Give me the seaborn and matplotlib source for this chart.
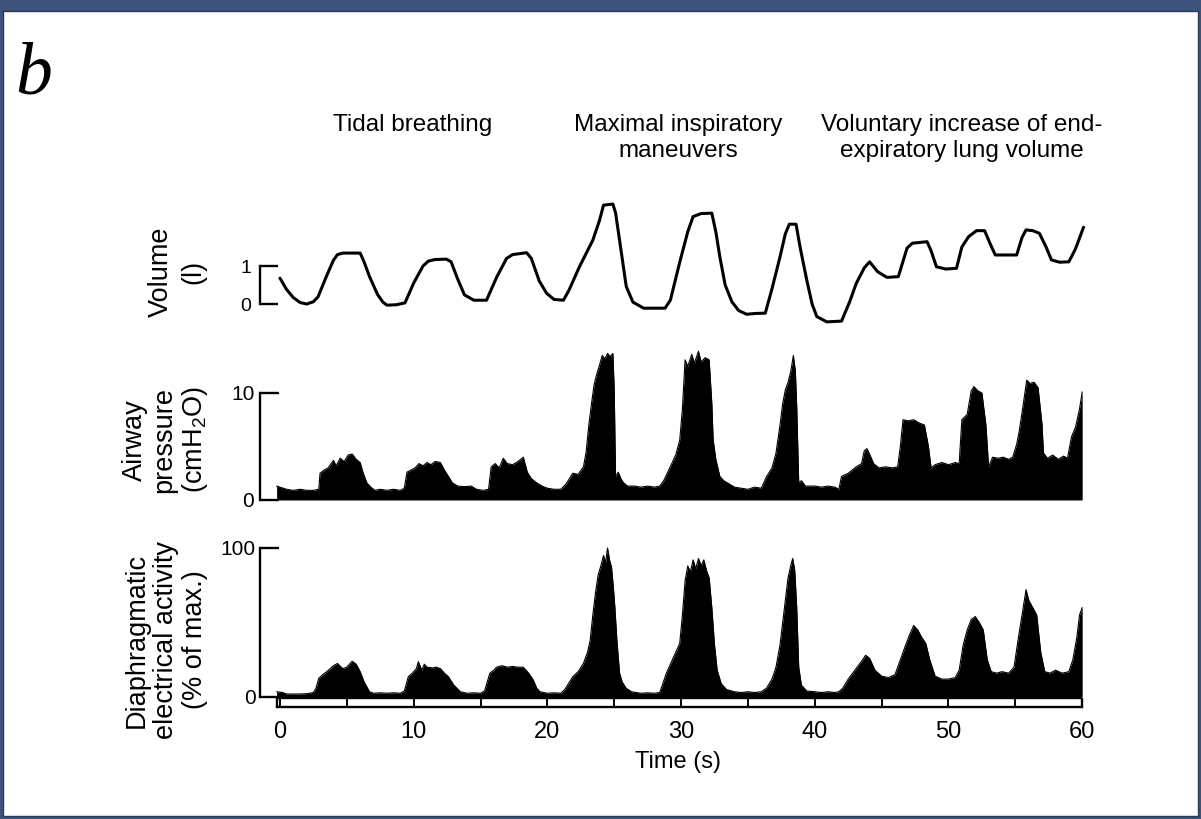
import matplotlib
matplotlib.use("Agg")
import matplotlib.pyplot as plt
from matplotlib.patches import Rectangle
import pandas as pd
import seaborn as sns

# ---------------------------------------------------------------------------
# data (time in s)
# ---------------------------------------------------------------------------
vol_t = [0.0, 0.5, 1.0, 1.5, 2.0, 2.5, 2.85, 3.5, 4.0, 4.3, 4.7, 6.0, 6.3, 6.7, 7.3,
         7.7, 8.0, 8.7, 9.35, 10.0, 10.7, 11.1, 11.6, 12.45, 12.8, 13.3, 13.8, 14.5,
         15.45, 16.2, 16.95, 17.4, 18.45, 18.8, 19.4, 19.95, 20.5, 21.2, 21.6, 22.4,
         23.4, 23.9, 24.2, 24.9, 25.1, 25.4, 25.9, 26.4, 27.2, 28.8, 29.2, 29.9,
         30.5, 30.9, 31.5, 32.3, 32.6, 32.9, 33.3, 33.8, 34.3, 34.9, 35.5, 36.3,
         36.8, 37.4, 37.8, 38.1, 38.6, 38.9, 39.4, 39.8, 40.15, 40.9, 42.0, 42.6,
         43.1, 43.7, 44.1, 44.7, 45.4, 46.25, 46.9, 47.3, 48.4, 48.7, 49.1, 49.8,
         50.6, 51.0, 51.5, 52.1, 52.7, 53.1, 53.5, 55.1, 55.5, 55.8, 56.3, 56.8,
         57.3, 57.7, 58.3, 59.0, 59.5, 60.1]
vol_l = [0.68, 0.38, 0.17, 0.04, 0.0, 0.06, 0.19, 0.75, 1.15, 1.3, 1.34, 1.34, 1.1, 0.72, 0.25,
         0.05, -0.03, -0.02, 0.03, 0.55, 1.0, 1.13, 1.17, 1.18, 1.11, 0.65, 0.24, 0.1,
         0.1, 0.7, 1.2, 1.3, 1.35, 1.2, 0.6, 0.28, 0.12, 0.1, 0.35, 0.98,
         1.68, 2.2, 2.6, 2.63, 2.4, 1.68, 0.46, 0.05, -0.11, -0.11, 0.1, 1.1,
         1.9, 2.3, 2.38, 2.39, 1.9, 1.24, 0.5, 0.06, -0.17, -0.27, -0.25, -0.24,
         0.4, 1.24, 1.85, 2.1, 2.1, 1.5, 0.63, 0.0, -0.33, -0.47, -0.45, 0.05,
         0.54, 0.95, 1.11, 0.85, 0.7, 0.72, 1.47, 1.6, 1.64, 1.4, 0.98, 0.92,
         0.94, 1.5, 1.77, 1.93, 1.93, 1.6, 1.29, 1.29, 1.75, 1.95, 1.93, 1.86,
         1.5, 1.16, 1.1, 1.11, 1.45, 2.02]

pres_t = [-0.25, 0.5, 1.0, 1.5, 2.0, 2.5, 2.9, 3.0, 3.3, 3.6, 4.0, 4.2, 4.5, 4.8, 5.1,
          5.4, 5.7, 6.0, 6.2, 6.5, 6.8, 7.1, 7.5, 8.0, 8.5, 9.0, 9.3, 9.5, 9.8, 10.1,
          10.4, 10.7, 11.0, 11.3, 11.6, 12.0, 12.3, 12.6, 12.9, 13.3, 13.8, 14.3,
          14.7, 15.2, 15.6, 15.8, 16.1, 16.4, 16.7, 17.0, 17.4, 17.8, 18.2, 18.5,
          18.8, 19.2, 19.6, 20.0, 20.5, 21.0, 21.4, 21.9, 22.3, 22.7, 22.9, 23.1,
          23.3, 23.5, 23.7, 23.9, 24.1, 24.3, 24.5, 24.7, 24.9, 25.0, 25.1, 25.3,
          25.5, 25.7, 26.0, 26.5, 27.0, 27.5, 28.0, 28.4, 28.7, 29.0, 29.3, 29.6,
          29.9, 30.1, 30.3, 30.5, 30.8, 31.0, 31.3, 31.5, 31.8, 32.1, 32.3, 32.4,
          32.6, 32.9, 33.2, 33.6, 34.0, 34.5, 35.0, 35.5, 36.0, 36.4, 36.8, 37.1,
          37.4, 37.6, 37.8, 38.0, 38.2, 38.4, 38.55, 38.65, 38.8, 39.0, 39.3, 40.0,
          40.5, 41.0, 41.5, 41.8, 42.0, 42.5, 43.1, 43.5, 43.7, 43.9, 44.2, 44.4,
          44.8, 45.3, 45.8, 46.2, 46.4, 46.6, 47.0, 47.4, 47.8, 48.2, 48.5, 48.7,
          49.0, 49.5, 50.0, 50.5, 50.8, 51.0, 51.4, 51.7, 51.9, 52.2, 52.5, 52.8,
          53.0, 53.3, 53.7, 54.1, 54.5, 54.8, 55.1, 55.3, 55.6, 55.85, 56.1, 56.4,
          56.7, 57.0, 57.1, 57.4, 57.8, 58.2, 58.6, 58.9, 59.2, 59.5, 59.8, 60.0]
pres_cm = [1.3, 1.0, 0.9, 1.0, 0.9, 0.9, 1.0, 2.5, 2.8, 3.0, 3.7, 3.2, 3.9, 3.6, 4.2,
           4.3, 3.8, 3.5, 2.6, 1.6, 1.2, 0.9, 1.0, 0.9, 1.0, 0.9, 1.1, 2.6, 2.8, 3.0,
           3.4, 3.2, 3.5, 3.3, 3.6, 3.5, 2.8, 2.2, 1.6, 1.3, 1.25, 1.3,
           1.0, 0.9, 1.0, 3.1, 3.4, 3.0, 3.9, 3.4, 3.3, 3.6, 4.0, 2.6,
           2.0, 1.6, 1.3, 1.1, 1.0, 1.0, 1.5, 2.5, 2.4, 3.1, 4.5, 7.0,
           9.0, 10.8, 11.8, 12.6, 13.5, 13.2, 13.7, 13.4, 13.7, 10.3, 2.2, 2.6,
           2.0, 1.6, 1.3, 1.3, 1.2, 1.3, 1.2, 1.3, 1.8, 2.6, 3.4, 4.2,
           5.6, 8.5, 13.1, 12.5, 13.6, 12.8, 13.9, 12.9, 13.3, 13.1, 9.0, 5.6,
           3.8, 2.2, 1.8, 1.5, 1.2, 1.1, 1.0, 1.2, 1.1, 2.2, 3.0, 4.4,
           7.0, 9.0, 10.3, 11.0, 12.0, 13.5, 12.0, 8.7, 1.6, 1.8, 1.3, 1.3,
           1.2, 1.3, 1.2, 1.0, 2.2, 2.5, 3.1, 3.4, 4.6, 4.8, 4.0, 3.4,
           3.0, 3.1, 3.0, 3.1, 5.0, 7.5, 7.4, 7.5, 7.2, 7.0, 5.0, 3.0,
           3.3, 3.5, 3.3, 3.5, 3.4, 7.5, 8.0, 10.2, 10.6, 10.2, 10.0, 7.0,
           3.1, 4.0, 3.9, 4.0, 3.8, 4.0, 5.2, 6.5, 9.0, 11.2, 10.9, 11.0,
           10.5, 7.0, 4.4, 3.9, 4.2, 3.8, 4.1, 3.9, 5.9, 6.8, 8.5, 10.1]

emg_t = [-0.25, 0.2, 0.5, 1.0, 1.5, 2.0, 2.5, 2.7, 2.9, 3.2, 3.5, 4.0, 4.3, 4.7, 5.0,
         5.4, 5.7, 6.0, 6.3, 6.7, 7.0, 7.5, 8.0, 8.5, 9.0, 9.3, 9.6, 9.9, 10.2,
         10.35, 10.6, 10.8, 11.0, 11.4, 11.7, 12.0, 12.3, 12.6, 13.0, 13.5, 14.0,
         14.5, 15.0, 15.3, 15.7, 16.0, 16.2, 16.6, 17.0, 17.4, 17.8, 18.2, 18.6,
         18.95, 19.2, 19.45, 20.0, 20.5, 21.0, 21.3, 21.9, 22.3, 22.7, 23.0, 23.2,
         23.4, 23.6, 23.8, 24.0, 24.2, 24.35, 24.5, 24.65, 24.8, 24.95, 25.05,
         25.2, 25.4, 25.6, 25.9, 26.3, 27.0, 27.5, 28.0, 28.4, 28.6, 28.9, 29.2,
         29.5, 29.9, 30.1, 30.3, 30.5, 30.7, 30.9, 31.1, 31.3, 31.5, 31.7, 31.9,
         32.1, 32.3, 32.5, 32.7, 33.0, 33.4, 34.0, 34.5, 35.0, 35.5, 36.0, 36.4,
         36.8, 37.1, 37.4, 37.6, 37.8, 38.0, 38.2, 38.35, 38.5, 38.65, 38.8, 39.0,
         39.4, 40.0, 40.5, 41.0, 41.5, 41.8, 42.1, 42.5, 43.0, 43.5, 43.8, 44.1,
         44.5, 45.0, 45.5, 46.0, 46.4, 46.8, 47.1, 47.4, 47.7, 48.0, 48.3, 48.6,
         49.0, 49.5, 50.0, 50.5, 50.8, 51.1, 51.4, 51.7, 52.0, 52.3, 52.6, 52.9,
         53.2, 53.6, 54.0, 54.5, 54.9, 55.2, 55.5, 55.8, 56.0, 56.3, 56.6, 56.9,
         57.2, 57.6, 58.0, 58.5, 59.0, 59.3, 59.6, 59.8, 60.0]
emg_pct = [3.5, 3.0, 2.0, 2.0, 2.0, 2.2, 3.0, 6.0, 12.5, 15.0, 17.0, 21.0, 22.5, 19.0, 20.0,
           24.0, 22.0, 17.0, 10.0, 3.5, 2.5, 2.8, 2.5, 2.8, 2.5, 4.0, 13.6, 16.0, 19.0,
           23.7, 18.0, 22.0, 20.0, 19.5, 20.0, 19.0, 16.0, 13.6, 8.0, 3.5, 2.5,
           2.8, 2.5, 4.0, 16.0, 18.0, 20.0, 21.0, 20.0, 20.5, 20.0, 20.0, 16.0,
           11.4, 6.0, 3.5, 2.5, 2.8, 2.5, 5.0, 13.6, 17.0, 22.6, 30.0, 38.0,
           55.0, 70.0, 82.0, 88.0, 95.0, 90.0, 100.0, 92.0, 87.0, 72.0, 60.0,
           38.0, 16.0, 10.0, 5.8, 3.5, 2.5, 2.8, 2.5, 3.0, 8.0, 16.0, 22.0,
           28.0, 36.0, 55.0, 78.0, 88.0, 84.0, 92.0, 86.0, 93.0, 88.0, 92.0, 85.0,
           80.0, 60.0, 35.0, 18.0, 9.0, 5.0, 3.5, 3.0, 3.5, 3.0, 3.5, 6.0,
           12.0, 20.0, 35.0, 50.0, 65.0, 80.0, 88.0, 93.0, 85.0, 60.0, 20.0, 8.0,
           4.0, 3.5, 3.0, 3.5, 3.0, 3.5, 6.0, 12.0, 18.0, 24.0, 28.0, 26.0,
           18.0, 14.0, 13.0, 15.0, 25.0, 35.0, 42.0, 48.0, 45.0, 40.0, 36.0, 25.0,
           14.0, 12.0, 12.0, 13.0, 18.0, 35.0, 45.0, 52.0, 54.0, 50.0, 45.0, 25.0,
           17.0, 16.0, 17.0, 16.0, 20.0, 38.0, 55.0, 72.0, 65.0, 60.0, 55.0, 30.0,
           17.0, 16.0, 18.0, 16.0, 17.0, 25.0, 40.0, 55.0, 60.0]

time_ticks = [0, 10, 20, 30, 40, 50, 60]
bar_ticks = [0, 5, 10, 15, 20, 25, 30, 35, 40, 45, 50, 55, 60]

phase_labels = ["Tidal breathing",
                "Maximal inspiratory\nmaneuvers",
                "Voluntary increase of end-\nexpiratory lung volume"]
phase_x_px = [413, 678, 962]

vol_df = pd.DataFrame({"t": vol_t, "v": vol_l})
pres_df = pd.DataFrame({"t": pres_t, "p": pres_cm})
emg_df = pd.DataFrame({"t": emg_t, "e": emg_pct})

# ---------------------------------------------------------------------------
sns.set_style("ticks")
plt.rcParams["font.family"] = ["Liberation Sans", "DejaVu Sans"]
plt.rcParams["mathtext.default"] = "regular"
plt.rcParams["text.color"] = "black"
plt.rcParams["xtick.color"] = "black"
plt.rcParams["ytick.color"] = "black"
plt.rcParams["axes.labelcolor"] = "black"

W, H = 1201, 819
fig = plt.figure(figsize=(W / 100, H / 100), dpi=100)
fig.patch.set_facecolor("#3e5379")
fig.add_artist(Rectangle((3 / W, 3 / H), (W - 6) / W, (H - 14) / H,
                         transform=fig.transFigure, facecolor="white",
                         edgecolor="#2b3a58", lw=1, zorder=-1))

XLIM = (-1.5, 61)
LEFT, WIDTH = 0.2164, 0.6958
SPINE_LW = 1.7


def clean(ax):
    ax.set_xlim(*XLIM)
    ax.patch.set_visible(False)
    for s in ["top", "right", "bottom"]:
        ax.spines[s].set_visible(False)
    ax.spines["left"].set_linewidth(SPINE_LW)
    ax.spines["left"].set_color("black")
    ax.set_xlabel("")
    ax.set_ylabel("")


# A) volume
ax1 = fig.add_axes([LEFT, 0.594, WIDTH, 0.1717])
sns.lineplot(data=vol_df, x="t", y="v", ax=ax1, color="black", lw=2.2,
             estimator=None, sort=False)
clean(ax1)
ax1.set_ylim(-0.75, 2.95)
ax1.spines["left"].set_bounds(0, 1)
ax1.set_yticks([0, 1])
ax1.set_yticklabels(["0", "1"])
ax1.set_xticks([])
ax1.tick_params(axis="y", direction="in", length=13, width=SPINE_LW,
                labelsize=14, pad=6)

# B) airway pressure
ax2 = fig.add_axes([LEFT, 0.3856, WIDTH, 0.1999])
ax2.fill_between(pres_df["t"], 0, pres_df["p"], color="black", lw=0)
sns.lineplot(data=pres_df, x="t", y="p", ax=ax2, color="black", lw=0.8,
             estimator=None, sort=False)
clean(ax2)
ax2.set_ylim(-0.3, 15)
ax2.spines["left"].set_bounds(0, 10)
ax2.set_yticks([0, 10])
ax2.set_yticklabels(["0", "10"])
ax2.set_xticks([])
ax2.tick_params(axis="y", direction="in", length=14, width=SPINE_LW,
                labelsize=15, pad=4)

# C) diaphragm EMG + time bar
ax3 = fig.add_axes([LEFT, 0.1368, WIDTH, 0.2123])
ax3.fill_between(emg_df["t"], 0, emg_df["e"], color="black", lw=0)
sns.lineplot(data=emg_df, x="t", y="e", ax=ax3, color="black", lw=0.8,
             estimator=None, sort=False)
clean(ax3)
bar_top, bar_bottom = -0.7, -6.7
ax3.set_ylim(bar_bottom, 110)
ax3.spines["left"].set_bounds(0, 100)
ax3.spines["bottom"].set_visible(True)
ax3.spines["bottom"].set_linewidth(SPINE_LW)
ax3.spines["bottom"].set_color("black")
ax3.spines["bottom"].set_bounds(emg_t[0], bar_ticks[-1])
ax3.hlines(bar_top, emg_t[0], bar_ticks[-1], color="black", lw=SPINE_LW)
ax3.vlines([emg_t[0], bar_ticks[-1]], bar_bottom, bar_top, color="black", lw=SPINE_LW)
ax3.set_yticks([0, 100])
ax3.set_yticklabels(["0", "100"])
ax3.tick_params(axis="y", direction="in", length=14, width=SPINE_LW,
                labelsize=15, pad=3)
ax3.set_xticks(time_ticks)
ax3.set_xticks(bar_ticks, minor=True)
ax3.set_xticklabels([str(t) for t in time_ticks])
ax3.tick_params(axis="x", which="both", direction="in", length=6.5,
                width=1.4, labelsize=17, pad=10)
ax3.set_xlabel("Time (s)", fontsize=17, labelpad=6)

# y labels
fig.text(177 / W, 1 - 272 / H, "Volume\n(l)", rotation=90, ha="center",
         va="center", fontsize=19.5, linespacing=1.3, multialignment="center")
fig.text(166 / W, 1 - 440 / H, "Airway\npressure\n(cmH$_2$O)", rotation=90,
         ha="center", va="center", fontsize=19.5, linespacing=1.15,
         multialignment="center")
fig.text(166 / W, 1 - 640 / H, "Diaphragmatic\nelectrical activity\n(% of max.)",
         rotation=90, ha="center", va="center", fontsize=19.5, linespacing=1.15,
         multialignment="center")

# phase annotations
for lab, xp in zip(phase_labels, phase_x_px):
    fig.text(xp / W, 1 - 114 / H, lab, ha="center", va="top", fontsize=17.5,
             linespacing=1.25, multialignment="center")

# panel letter
fig.text(15 / W, 1 - 93 / H, "b", family=["Liberation Serif", "DejaVu Serif"],
         style="italic", fontsize=53, ha="left", va="baseline")

fig.savefig("out.png", dpi=100, facecolor=fig.get_facecolor())
